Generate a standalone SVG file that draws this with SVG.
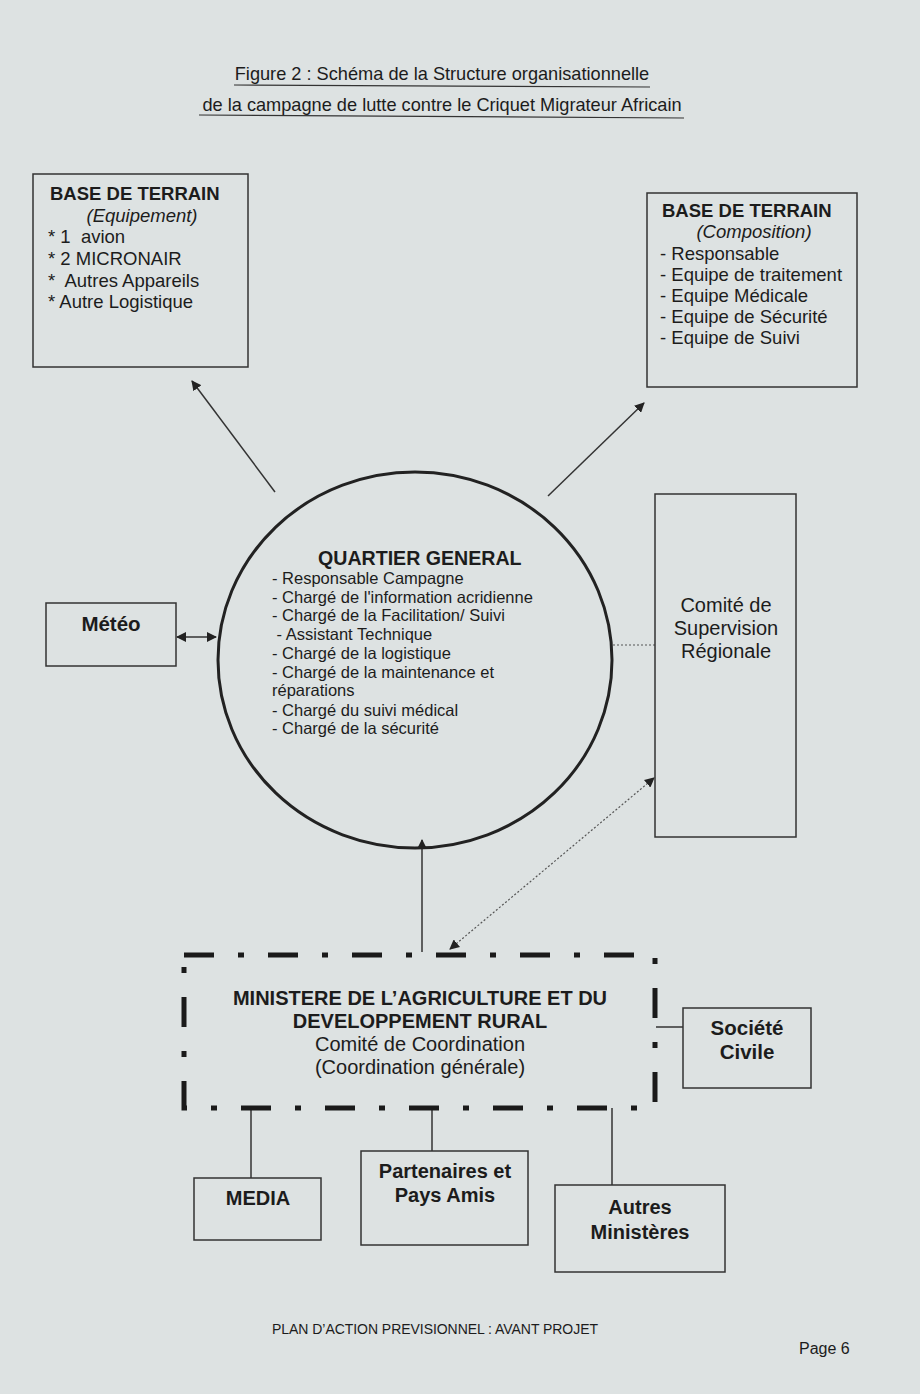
<svg xmlns="http://www.w3.org/2000/svg" width="920" height="1394" viewBox="0 0 920 1394">
<style>
text{font-family:"Liberation Sans",Arial,sans-serif;fill:#1c1c1c;white-space:pre}
.b{font-weight:bold}
.box{fill:none;stroke:#333;stroke-width:1.5}
.ln{fill:none;stroke:#333;stroke-width:1.5}
.dot{fill:none;stroke:#555;stroke-width:1.2;stroke-dasharray:2 2}
.tb{font-size:18.5px}
.tq{font-size:16.5px}
.tm{font-size:20px}
.c{text-anchor:middle}
</style>
<defs>
<marker id="ah" viewBox="0 0 10 10" refX="9" refY="5" markerWidth="10" markerHeight="10" markerUnits="userSpaceOnUse" orient="auto-start-reverse">
<path d="M0,0 L10,5 L0,10 z" fill="#222"/>
</marker>
</defs>
<rect width="920" height="1394" fill="#dde2e2"/>

<g id="title">
<text x="442" y="80" font-size="18.2" class="c">Figure 2 : Schéma de la Structure organisationnelle</text>
<line x1="234" y1="85" x2="650" y2="87" stroke="#333" stroke-width="1.2"/>
<text x="442" y="111" font-size="18.2" class="c">de la campagne de lutte contre le Criquet Migrateur Africain</text>
<line x1="199" y1="115" x2="684" y2="118" stroke="#333" stroke-width="1.2"/>
</g>

<g id="connectors">
<line class="ln" x1="275" y1="492" x2="192" y2="381" marker-end="url(#ah)"/>
<line class="ln" x1="548" y1="496" x2="644" y2="403" marker-end="url(#ah)"/>
<line class="ln" x1="177" y1="637" x2="216" y2="637" marker-start="url(#ah)" marker-end="url(#ah)"/>
<line class="dot" x1="613" y1="645" x2="655" y2="645"/>
<line class="dot" x1="450" y1="949" x2="654" y2="778" marker-start="url(#ah)" marker-end="url(#ah)"/>
<line class="ln" x1="422" y1="952" x2="422" y2="840" marker-end="url(#ah)"/>
<line class="ln" x1="656" y1="1027" x2="683" y2="1027"/>
<line class="ln" x1="251" y1="1106" x2="251" y2="1178"/>
<line class="ln" x1="432" y1="1106" x2="432" y2="1151"/>
<line class="ln" x1="612" y1="1108" x2="612" y2="1185"/>
</g>

<g id="base-equipement">
<rect class="box" x="33" y="174" width="215" height="193"/>
<text x="50" y="200" class="tb b">BASE DE TERRAIN</text>
<text x="142" y="222" class="tb c" font-style="italic">(Equipement)</text>
<text x="48" y="243" class="tb">* 1  avion</text>
<text x="48" y="265" class="tb">* 2 MICRONAIR</text>
<text x="48" y="287" class="tb">*  Autres Appareils</text>
<text x="48" y="308" class="tb">* Autre Logistique</text>
</g>

<g id="base-composition">
<rect class="box" x="647" y="193" width="210" height="194"/>
<text x="662" y="217" class="tb b">BASE DE TERRAIN</text>
<text x="754" y="238" class="tb c" font-style="italic">(Composition)</text>
<text x="660" y="260" class="tb">- Responsable</text>
<text x="660" y="281" class="tb">- Equipe de traitement</text>
<text x="660" y="302" class="tb">- Equipe Médicale</text>
<text x="660" y="323" class="tb">- Equipe de Sécurité</text>
<text x="660" y="344" class="tb">- Equipe de Suivi</text>
</g>

<g id="quartier-general">
<ellipse cx="415" cy="660" rx="197" ry="188" fill="none" stroke="#222" stroke-width="3"/>
<text x="318" y="565" class="b" font-size="19.6">QUARTIER GENERAL</text>
<text x="272" y="584" class="tq">- Responsable Campagne</text>
<text x="272" y="603" class="tq">- Chargé de l'information acridienne</text>
<text x="272" y="621" class="tq">- Chargé de la Facilitation/ Suivi</text>
<text x="272" y="640" class="tq"> - Assistant Technique</text>
<text x="272" y="659" class="tq">- Chargé de la logistique</text>
<text x="272" y="678" class="tq">- Chargé de la maintenance et</text>
<text x="272" y="696" class="tq">réparations</text>
<text x="272" y="716" class="tq">- Chargé du suivi médical</text>
<text x="272" y="734" class="tq">- Chargé de la sécurité</text>
</g>

<g id="meteo">
<rect class="box" x="46" y="603" width="130" height="63"/>
<text x="111" y="631" class="b c" font-size="20.5">Météo</text>
</g>

<g id="comite-supervision">
<rect class="box" x="655" y="494" width="141" height="343"/>
<text x="726" y="612" font-size="20" class="c">Comité de</text>
<text x="726" y="635" font-size="20" class="c">Supervision</text>
<text x="726" y="658" font-size="20" class="c">Régionale</text>
</g>

<g id="ministere">
<path d="M184,955 H655 V1108 H184 Z" fill="none" stroke="#1a1a1a" stroke-width="5" stroke-dasharray="30 24 6 24"/>
<text x="420" y="1005" class="tm b c">MINISTERE DE L’AGRICULTURE ET DU</text>
<text x="420" y="1028" class="tm b c">DEVELOPPEMENT RURAL</text>
<text x="420" y="1051" class="tm c">Comité de Coordination</text>
<text x="420" y="1074" class="tm c">(Coordination générale)</text>
</g>

<g id="societe-civile">
<rect class="box" x="683" y="1008" width="128" height="80"/>
<text x="747" y="1035" class="b c" font-size="20.5">Société</text>
<text x="747" y="1059" class="b c" font-size="20.5">Civile</text>
</g>

<g id="media">
<rect class="box" x="194" y="1178" width="127" height="62"/>
<text x="258" y="1205" class="tm b c">MEDIA</text>
</g>

<g id="partenaires">
<rect class="box" x="361" y="1151" width="167" height="94"/>
<text x="445" y="1178" class="tm b c">Partenaires et</text>
<text x="445" y="1202" class="tm b c">Pays Amis</text>
</g>

<g id="autres-ministeres">
<rect class="box" x="555" y="1185" width="170" height="87"/>
<text x="640" y="1214" class="tm b c">Autres</text>
<text x="640" y="1239" class="tm b c">Ministères</text>
</g>

<g id="footer">
<text x="272" y="1334" font-size="14" font-family="'Open Sans',sans-serif" textLength="326">PLAN D’ACTION PREVISIONNEL : AVANT PROJET</text>
<text x="799" y="1354" font-size="16" font-family="'Open Sans',sans-serif">Page 6</text>
</g>
</svg>
